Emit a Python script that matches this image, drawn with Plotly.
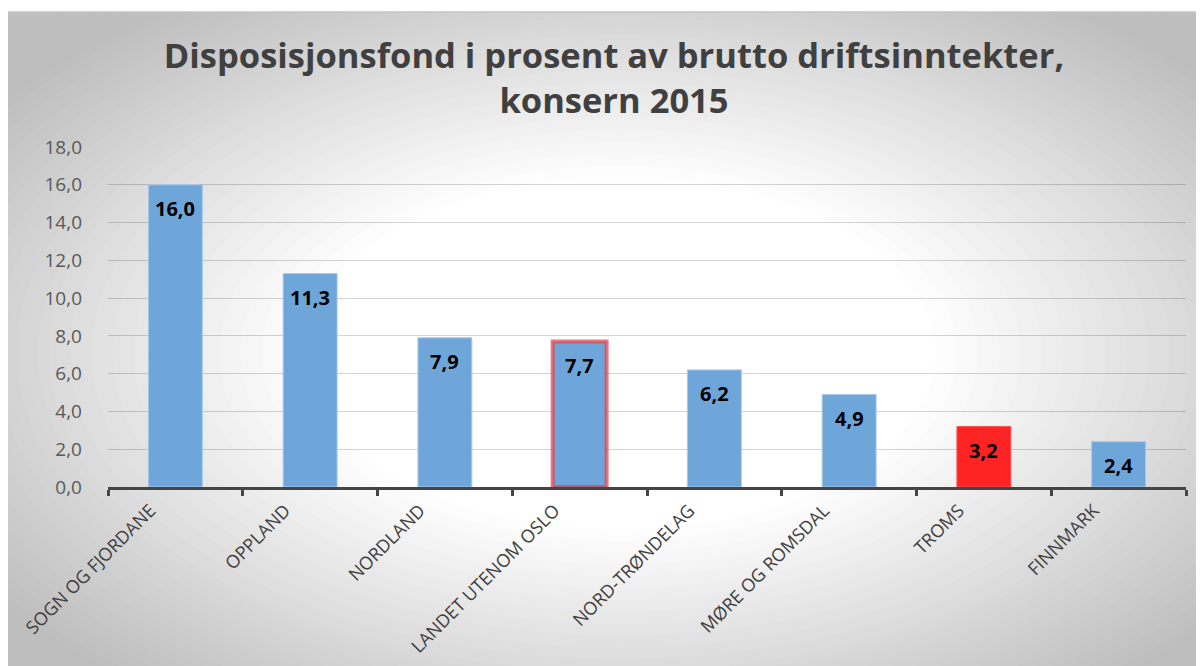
import plotly.graph_objects as go

categories = ["SOGN OG FJORDANE", "OPPLAND", "NORDLAND", "LANDET UTENOM OSLO",
              "NORD-TRØNDELAG", "MØRE OG ROMSDAL", "TROMS", "FINNMARK"]
values = [16.0, 11.3, 7.9, 7.7, 6.2, 4.9, 3.2, 2.4]
title_text = "Disposisjonsfond i prosent av brutto driftsinntekter,<br>konsern 2015"
y_ticks = [0, 2, 4, 6, 8, 10, 12, 14, 16, 18]

# figure is placed at (8, 8) in the page by the body margin
W, H = 1196, 658
L, R, T, B = 100, 18, 139, 179
pw, ph = W - L - R, H - T - B

def px2x(px):
    return (px - L) / pw

def py2y(py):
    return (H - B - py) / ph

blue = "#6fa6da"
colors = [blue] * len(values)
colors[6] = "#ff2424"
line_colors = ["#a9c9e8"] * len(values)
line_colors[3] = "rgba(232,60,70,0.7)"
line_colors[6] = "#ff5050"
line_widths = [1] * len(values)
line_widths[3] = 4

fig = go.Figure()
fig.add_trace(go.Bar(
    x=categories, y=values,
    marker=dict(color=colors, line=dict(color=line_colors, width=line_widths)),
    hoverinfo="skip",
))

shapes = []
# radial gradient background (frame starts at fig y=4)
top = 4
cx, cy = 612, 345
rx0, ry0 = cx * 1.2, (cy - top) * 1.2
dark = 190
shapes.append(dict(type="rect", xref="paper", yref="paper",
                   x0=px2x(0), x1=px2x(W + 5), y0=py2y(H + 5), y1=py2y(top),
                   fillcolor=f"rgb({dark},{dark},{dark})", line=dict(width=0), layer="below"))
n = 60
dmax, dwhite = 1.3, 0.43
for i in range(n + 1):
    d = dmax - (dmax - dwhite) * i / n
    t = min(1.0, max(0.0, (d - dwhite) / (1.05 - dwhite)))
    g = int(round(255 - (255 - dark) * t))
    col = f"rgb({g},{g},{g})"
    shapes.append(dict(type="circle", xref="paper", yref="paper",
                       x0=px2x(cx - rx0 * d), x1=px2x(cx + rx0 * d),
                       y0=py2y(cy + ry0 * d), y1=py2y(cy - ry0 * d),
                       fillcolor=col, line=dict(width=0), layer="below"))
# white strip above the frame
shapes.append(dict(type="rect", xref="paper", yref="paper",
                   x0=px2x(-5), x1=px2x(W + 5), y0=py2y(top), y1=py2y(-5),
                   fillcolor="white", line=dict(width=0), layer="below"))
shapes.append(dict(type="line", xref="paper", yref="paper",
                   x0=px2x(0), x1=px2x(W + 5), y0=py2y(top), y1=py2y(top),
                   line=dict(color="#c4c4c4", width=1.5), layer="below"))

annotations = []
for c, v in zip(categories, values):
    annotations.append(dict(x=c, y=v, xref="x", yref="y",
                            text=f"{v:.1f}".replace(".", ","),
                            showarrow=False, yshift=-24,
                            font=dict(family="Open Sans", size=20, color="black", weight="bold")))

fig.update_layout(
    width=W, height=H,
    margin=dict(l=L, r=R, t=T, b=B, autoexpand=False),
    paper_bgcolor="white",
    plot_bgcolor="rgba(0,0,0,0)",
    separators=",.",
    showlegend=False,
    bargap=0.6,
    shapes=shapes,
    annotations=annotations,
    title=dict(text=title_text, x=606 / W, xanchor="center", xref="container",
               y=1 - 60 / H, yanchor="middle", yref="container",
               font=dict(family="Open Sans", size=34.5, color="#404040", weight="bold")),
    xaxis=dict(
        automargin=False,
        tickangle=-45,
        tickfont=dict(family="Open Sans", size=18, color="#404040"),
        showline=True, linecolor="#454545", linewidth=3,
        ticks="outside", tickson="boundaries", ticklen=6, tickwidth=3, tickcolor="#454545",
        showgrid=False, ticklabelshift=-25, ticklabelstandoff=3,
    ),
    yaxis=dict(
        automargin=False,
        range=[0, 18], tickvals=y_ticks, tickformat=".1f",
        tickfont=dict(family="Open Sans", size=19, color="#595959"),
        showgrid=True, gridcolor="rgba(0,0,0,0.17)", gridwidth=1,
        showline=False, zeroline=False, ticks="", ticklabelstandoff=25,
    ),
)

fig.write_html("out.html")
